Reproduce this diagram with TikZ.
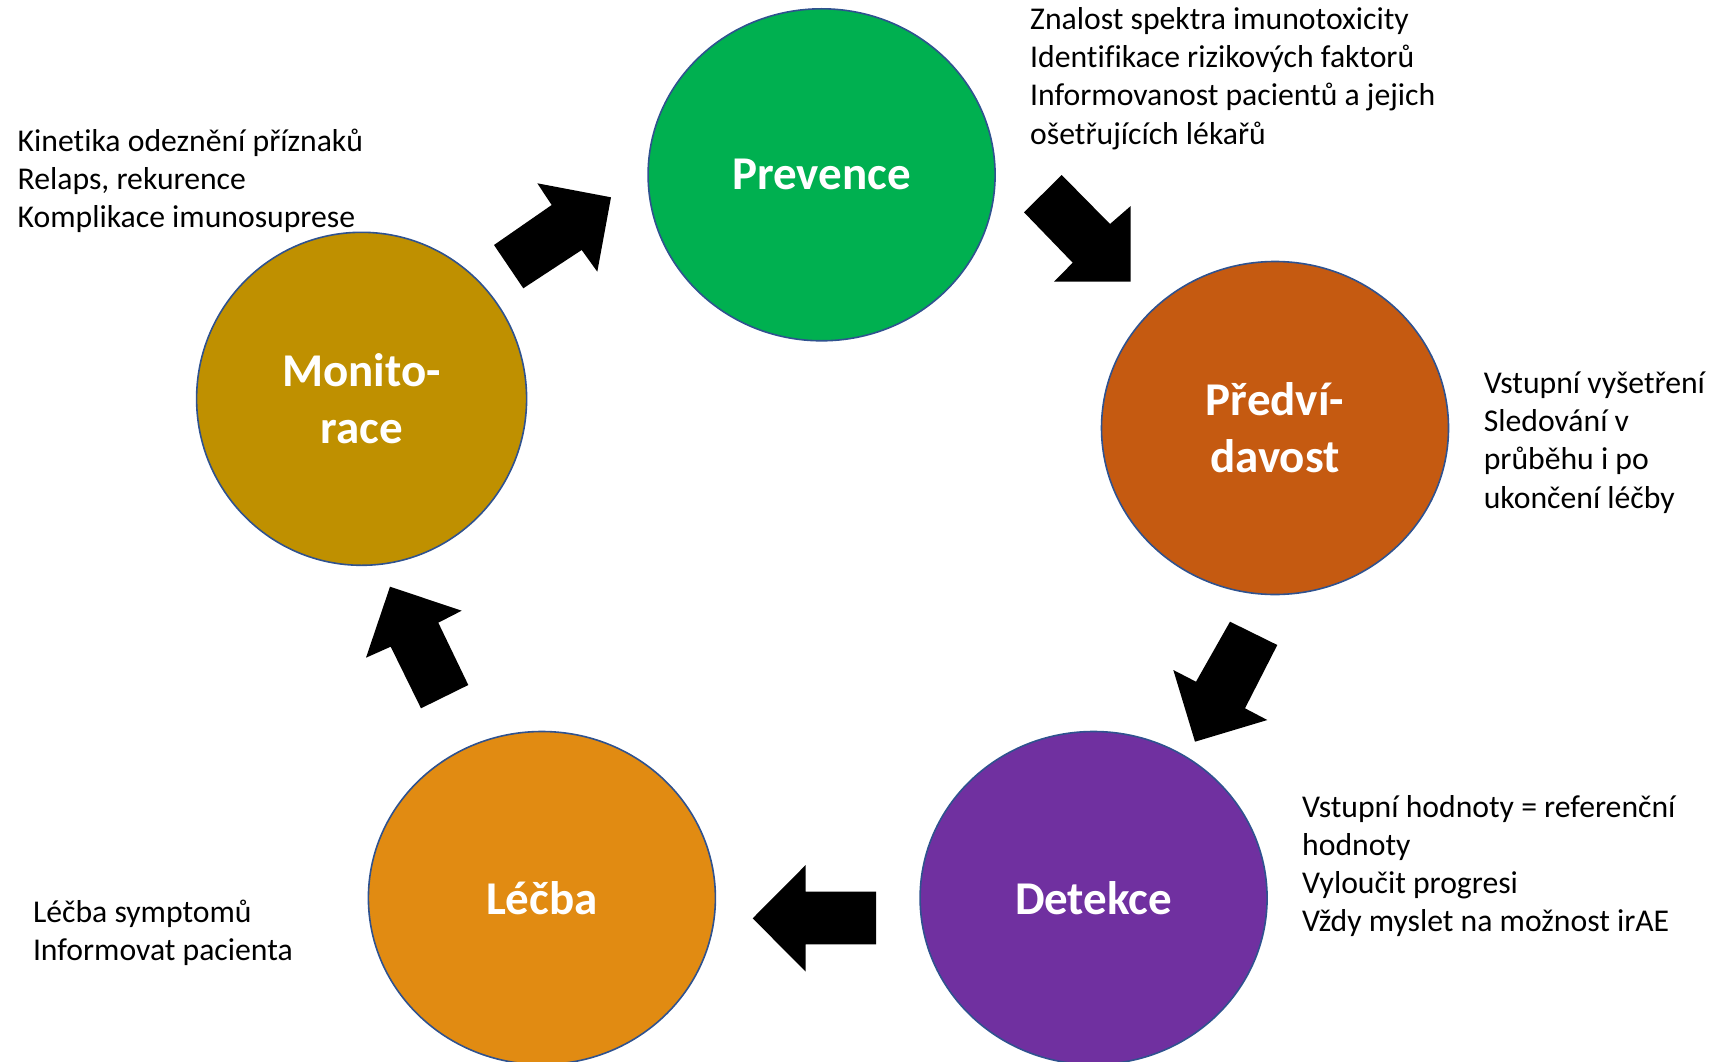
\documentclass[tikz,border=0pt]{standalone}
\usepackage{fontspec}
\setmainfont{Carlito}[Ligatures={NoCommon}]
\usetikzlibrary{shapes.geometric}
\definecolor{cgreen}{HTML}{00B050}
\definecolor{crust}{HTML}{C55A11}
\definecolor{cpurple}{HTML}{7030A0}
\definecolor{corange}{HTML}{E18B12}
\definecolor{cgold}{HTML}{BF9000}
\definecolor{cedge}{HTML}{2F528F}
\tikzset{
  phase/.style={ellipse, draw=cedge, line width=1.6pt, inner sep=0pt, text=white,
    font=\bfseries\fontsize{47}{57}\selectfont, align=center},
  note/.style={anchor=base west, inner sep=0pt, align=left,
    font=\fontsize{31.7}{38.2}\selectfont},
  blockarrow/.style={fill=black, draw=none}
}
\begin{document}
\begin{tikzpicture}[x=1pt,y=-1pt]
\useasboundingbox (0,0) rectangle (1713,1062);
\node[phase, fill=cgreen, minimum width=347pt, minimum height=332pt] (prev) at (821.6,174.8) {Prevence};
\node[phase, fill=crust, minimum width=347pt, minimum height=333pt] (pred) at (1275,428) {Předví-\\davost};
\node[phase, fill=cpurple, minimum width=347pt, minimum height=333pt] (det) at (1093.6,898) {Detekce};
\node[phase, fill=corange, minimum width=347pt, minimum height=333pt] (lec) at (541.9,898) {Léčba};
\node[phase, fill=cgold, minimum width=330pt, minimum height=333pt] (mon) at (361.6,398.8) {Monito-\\race};

% block arrows
\fill[blockarrow] (1061.7,175) -- (1024,212.3) -- (1072.7,262.7) -- (1054,281.7) -- (1130.7,281.7) -- (1130.7,206) -- (1110,224) -- cycle;
\fill[blockarrow] (1230,621.7) -- (1277.3,645) -- (1245,708.3) -- (1267.3,720) -- (1195,741.7) -- (1173.3,670) -- (1196,681.7) -- cycle;
\fill[blockarrow] (752.7,918.3) -- (805.7,865) -- (805.7,891.7) -- (876,891.7) -- (876,944.3) -- (805.7,944.3) -- (805.7,971.7) -- cycle;
\fill[blockarrow] (390,586.7) -- (461.7,610.7) -- (438.3,622.7) -- (468.3,685) -- (421,708.3) -- (390.7,646.7) -- (366,657.7) -- cycle;
\fill[blockarrow] (494,245) -- (523.3,288.3) -- (581.7,250) -- (597.3,271.7) -- (611,197.3) -- (537.3,183.3) -- (551.7,205) -- cycle;

% notes (anchor = baseline of last line)
\node[note] (nprev) at (1030,144.1) {Znalost spektra imunotoxicity\\Identifikace rizikových faktorů\\Informovanost pacientů a jejich\\ošetřujících lékařů};
\node[note] (npred) at (1483.6,508.1) {Vstupní vyšetření\\Sledování v\\průběhu i po\\ukončení léčby};
\node[note] (ndet) at (1302,931.6) {Vstupní hodnoty = referenční\\hodnoty\\Vyloučit progresi\\Vždy myslet na možnost irAE};
\node[note] (nlec) at (32.8,960.2) {Léčba symptomů\\Informovat pacienta};
\node[note] (nmon) at (17.5,227.4) {Kinetika odeznění příznaků\\Relaps, rekurence\\Komplikace imunosuprese};
\end{tikzpicture}
\end{document}
